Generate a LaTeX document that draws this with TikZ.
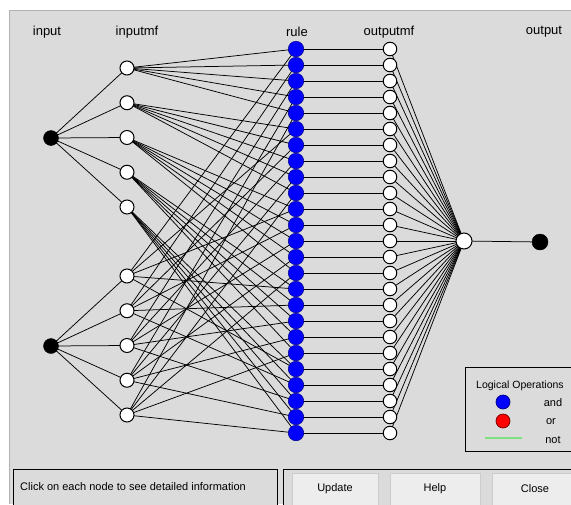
\documentclass[tikz,border=0pt]{standalone}
\usepackage{fontspec}
\setmainfont{Liberation Sans}
\usetikzlibrary{backgrounds}

\definecolor{panelgray}{HTML}{DBDBDB}
\definecolor{btngray}{HTML}{EDEDED}
\definecolor{notgreen}{HTML}{80E080}

\tikzset{
	innode/.style={circle, fill=black, draw=black, inner sep=0pt, minimum size=15pt},
	mfnode/.style={circle, fill=white, draw=black, line width=1pt, inner sep=0pt, minimum size=14pt},
	rulenode/.style={circle, fill=blue, draw=blue!55!black, line width=0.5pt, inner sep=0pt, minimum size=15.5pt},
	omfnode/.style={circle, fill=white, draw=black, line width=1pt, inner sep=0pt, minimum size=13.5pt},
	legdot/.style={circle, inner sep=0pt, minimum size=14pt, line width=0.7pt},
	link/.style={black, line width=0.75pt},
	layerlabel/.style={font=\fontsize{13}{15}\selectfont},
	smalltext/.style={font=\fontsize{11}{13}\selectfont, inner sep=0pt},
	btn/.style={draw=gray!40, fill=btngray, minimum height=32pt, inner sep=0pt, font=\fontsize{11}{13}\selectfont}
}

\begin{document}
\begin{tikzpicture}[x=1pt, y=-1pt]
	\useasboundingbox (0,0) rectangle (571,504);
	\clip (0,0) rectangle (571,504);
	% Fenster
	\begin{scope}[on background layer]
		\fill[white] (0,0) rectangle (571,504);
		\fill[panelgray] (9,10) rectangle (571,504);
		\draw[gray!60] (9,504) -- (9,10) -- (571,10);
	\end{scope}
	% Ueberschriften
	\node[layerlabel] (lin) at (47,32) {input};
	\node[layerlabel] (lmf) at (137,32) {inputmf};
	\node[layerlabel] (lrule) at (297,32) {rule};
	\node[layerlabel] (lomf) at (389,32) {outputmf};
	\node[layerlabel] (lout) at (544,32) {output};
	% Eingaenge
	\node[innode] (in1) at (51,138) {};
	\node[innode] (in2) at (51,346) {};
	% Eingangs-MF
	\foreach \n in {1,...,5} {
		\pgfmathtruncatemacro{\m}{\n+5}
		\node[mfnode] (mf\n) at (127,{68+34.75*(\n-1)}) {};
		\node[mfnode] (mf\m) at (127,{276+34.75*(\n-1)}) {};
	}
	% Regeln und Ausgangs-MF
	\foreach \k in {1,...,25} {
		\node[rulenode] (r\k) at (296,{49+16*(\k-1)}) {};
		\node[omfnode] (om\k) at (390,{49+16*(\k-1)}) {};
	}
	\node[mfnode, minimum size=16pt] (agg) at (464,241) {};
	\node[innode, minimum size=16pt] (out) at (540,242) {};
	% Verbindungen
	\begin{scope}[on background layer]
		\foreach \n in {1,...,5} {
			\pgfmathtruncatemacro{\m}{\n+5}
			\draw[link] (in1.center) -- (mf\n.center);
			\draw[link] (in2.center) -- (mf\m.center);
		}
		\foreach \i in {1,...,5} {
			\foreach \j in {1,...,5} {
				\pgfmathtruncatemacro{\k}{(\i-1)*5+\j}
				\pgfmathtruncatemacro{\m}{\j+5}
				\draw[link] (mf\i.center) -- (r\k.center);
				\draw[link] (mf\m.center) -- (r\k.center);
			}
		}
		\foreach \k in {1,...,25} {
			\draw[link] (r\k.center) -- (om\k.center);
			\draw[link] (om\k.center) -- (agg.center);
		}
		\draw[link] (agg.center) -- (out.center);
	\end{scope}
	% Legende
	\draw[black, line width=0.8pt, fill=panelgray] (465,367) rectangle (590,451);
	\node[smalltext, anchor=west, font=\fontsize{10.5}{12}\selectfont] (legtitle) at (476,386) {Logical Operations};
	\node[legdot, fill=blue, draw=blue!50!black] (legand) at (503,402) {};
	\node[legdot, fill=red, draw=red!45!black] (legor) at (503,421) {};
	\coordinate (notA) at (485,438);
	\coordinate (notB) at (522,438);
	\draw[notgreen, line width=1.6pt] (notA) -- (notB);
	\node[smalltext] (andtxt) at (553,403) {and};
	\node[smalltext] (ortxt) at (551,422) {or};
	\node[smalltext] (nottxt) at (553,440) {not};
	% Statuszeile und Knoepfe
	\draw[black, line width=0.8pt, fill=panelgray] (13,469) rectangle (277,515);
	\node[smalltext, anchor=west] (status) at (20,487) {Click on each node to see detailed information};
	\draw[black, line width=0.8pt, fill=panelgray] (283,469) rectangle (590,515);
	\node[btn, minimum width=86pt] (update) at (335,489) {Update};
	\node[btn, minimum width=90pt] (help) at (435,489) {Help};
	\node[btn, minimum width=86pt] (close) at (535,489) {Close};
\end{tikzpicture}
\end{document}
